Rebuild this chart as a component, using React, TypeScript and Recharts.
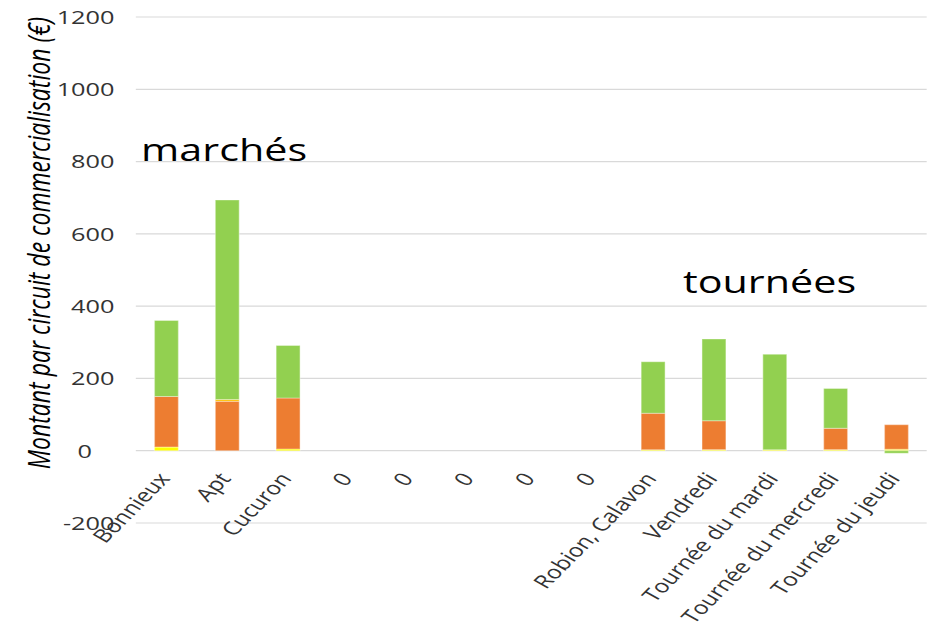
import { BarChart, Bar, XAxis, YAxis, CartesianGrid } from 'recharts'

// Montant par circuit de commercialisation (€)
const circuits = [
  'Bonnieux',
  'Apt',
  'Cucuron',
  '0',
  '0',
  '0',
  '0',
  '0',
  'Robion, Calavon',
  'Vendredi',
  'Tournée du mardi',
  'Tournée du mercredi',
  'Tournée du jeudi',
]
const serieJaune = [10, 0, 5, 0, 0, 0, 0, 0, 3, 3, 3, 3, 4]
const serieOrange = [140, 137, 141, 0, 0, 0, 0, 0, 101, 80, 0, 59, 68]
const serieOr = [0, 5, 0, 0, 0, 0, 0, 0, 0, 0, 0, 0, 0]
const serieVert = [210, 552, 145, 0, 0, 0, 0, 0, 142, 226, 264, 110, -7]
const yTicks = [-200, 0, 200, 400, 600, 800, 1000, 1200]

const data = circuits.map((name, i) => ({
  name,
  jaune: serieJaune[i],
  orange: serieOrange[i],
  or: serieOr[i],
  vert: serieVert[i],
}))

// The reference image is stretched horizontally; draw at a narrower width and scale up.
const W = 700
const H = 625
const SX = 932 / W

const FONT = '"Open Sans", "Liberation Sans", sans-serif'
const TEXT = '#333333'

function XTick({ x, y, payload }: any) {
  return (
    <g transform={`translate(${x + 3.5},${y - 44})`}>
      <text
        textAnchor="end"
        transform="rotate(-53)"
        fontSize={18.5}
        fontFamily={FONT}
        fill={TEXT}
      >
        {payload.value}
      </text>
    </g>
  )
}

// the zero label sits further left than the others in the reference
function YTick({ x, y, payload }: any) {
  const shift = payload.value === 0 ? -17 : 0
  return (
    <text
      x={x + shift}
      y={y}
      dy="0.36em"
      textAnchor="end"
      fontSize={19}
      fontFamily={FONT}
      fill={TEXT}
    >
      {payload.value}
    </text>
  )
}

export default function App() {
  return (
    <div style={{ position: 'absolute', left: 0, top: 0, width: 932, height: H, overflow: 'hidden', background: '#fff' }}>
      <div style={{ position: 'relative', width: W, height: H, transform: `scaleX(${SX})`, transformOrigin: '0 0' }}>
        <BarChart
          width={W}
          height={H}
          data={data}
          stackOffset="sign"
          barSize={18}
          margin={{ top: 17, right: 4, left: 0, bottom: 0 }}
        >
          <CartesianGrid vertical={false} stroke="#d9d9d9" strokeWidth={1.2} />
          <XAxis
            dataKey="name"
            axisLine={false}
            tickLine={false}
            tickSize={0}
            tickMargin={0}
            height={102}
            interval={0}
            tick={<XTick />}
          />
          <YAxis
            domain={[-200, 1200]}
            ticks={yTicks}
            interval={0}
            axisLine={false}
            tickLine={false}
            tickSize={0}
            tickMargin={16}
            width={102}
            tick={<YTick />}
          />
          <Bar dataKey="jaune" stackId="a" fill="#FFFF00" stroke="#ffffff" strokeOpacity={0.35} isAnimationActive={false} />
          <Bar dataKey="orange" stackId="a" fill="#ED7D31" stroke="#ffffff" strokeOpacity={0.35} isAnimationActive={false} />
          <Bar dataKey="or" stackId="a" fill="#FFC000" stroke="#ffffff" strokeOpacity={0.35} isAnimationActive={false} />
          <Bar dataKey="vert" stackId="a" fill="#92D050" stroke="#ffffff" strokeOpacity={0.35} isAnimationActive={false} />
        </BarChart>

        {/* titles and group annotations */}
        <svg width={W} height={H} style={{ position: 'absolute', left: 0, top: 0, pointerEvents: 'none' }}>
          <text
            transform="translate(28.5,243) rotate(-90)"
            textAnchor="middle"
            dominantBaseline="central"
            fontSize={23}
            fontStyle="italic"
            fontFamily={FONT}
            fill="#000"
          >
            Montant par circuit de commercialisation (€)
          </text>
          <text x={106} y={161} fontSize={31} fontFamily={FONT} fill="#000">
            marchés
          </text>
          <text x={513} y={293} fontSize={31} fontFamily={FONT} fill="#000">
            tournées
          </text>
        </svg>
      </div>
    </div>
  )
}
